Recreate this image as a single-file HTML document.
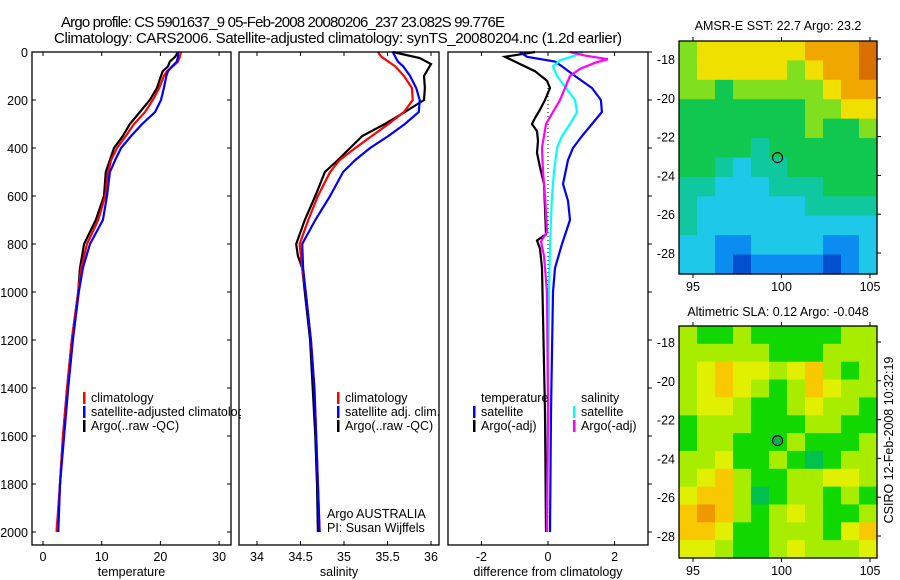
<!DOCTYPE html>
<html><head><meta charset="utf-8"><style>
html,body{margin:0;padding:0;background:#fff;}
svg{display:block;font-family:"Liberation Sans",sans-serif;}
text{fill:#000;}
</style></head><body>
<svg id="c" width="900" height="580" viewBox="0 0 900 580" xmlns="http://www.w3.org/2000/svg">
<defs><clipPath id="legclip"><rect x="0" y="0" width="241" height="580"/></clipPath></defs>
<text x="61" y="27" font-size="15" textLength="444">Argo profile: CS 5901637_9 05-Feb-2008 20080206_237 23.082S 99.776E</text>
<text x="54" y="43" font-size="15" textLength="568">Climatology: CARS2006. Satellite-adjusted climatology: synTS_20080204.nc (1.2d earlier)</text>
<g id="g"></g>
</svg>
<script>
// ---------- profile data ----------
const tDepth = [0,20,40,60,80,100,150,200,250,300,350,400,450,500,600,700,800,900,1000,1200,1400,1600,1800,2000];
const tArgo = [23.0,22.5,21.6,21.3,20.4,20.1,19.4,18.2,16.5,14.8,13.6,12.1,11.4,10.7,10.4,9.0,7.0,6.3,6.0,4.9,4.1,3.4,2.9,2.5];
const tClim = [23.5,23.3,23.0,22.1,21.1,20.6,19.8,18.7,17.4,15.5,14.1,12.6,11.6,11.1,10.6,9.4,7.5,6.5,6.0,4.9,4.1,3.4,2.9,2.3];
const tSat = [23.0,23.0,22.8,22.0,21.3,21.0,20.6,20.1,19.1,16.9,15.0,13.3,12.3,11.4,10.9,10.2,8.0,6.8,6.1,5.1,4.3,3.6,2.9,2.6];
const sArgoDepth = [0,25,50,100,150,200,250,300,350,400,450,500,600,700,800,850,900,1000,1200,1400,1600,1800,2000];
const sArgo = [35.56,35.87,36.0,35.92,35.93,35.92,35.70,35.47,35.21,35.07,34.93,34.78,34.67,34.55,34.45,34.47,34.52,34.55,34.61,34.64,34.67,34.69,34.70];
const sDepth = [0,20,40,60,100,150,200,250,300,350,400,450,500,600,700,800,900,1000,1200,1400,1600,1800,2000];
const sClim = [35.39,35.43,35.51,35.59,35.69,35.78,35.79,35.69,35.51,35.32,35.13,34.95,34.84,34.70,34.59,34.49,34.52,34.56,34.62,34.66,34.68,34.70,34.72];
const sSat = [35.56,35.59,35.62,35.68,35.76,35.83,35.87,35.86,35.70,35.51,35.30,35.13,34.99,34.84,34.67,34.52,34.53,34.56,34.62,34.66,34.68,34.70,34.72];
const dTSatDepth = [0,20,40,60,100,150,200,250,300,350,400,450,550,620,700,800,900,1000,1500,2000];
const dTSat = [-0.84,-0.63,0.21,0.42,0.81,1.32,1.59,1.62,1.32,1.02,0.75,0.60,0.45,0.60,0.66,0.42,0.21,0.15,0.09,0.06];
const dTArgoDepth = [0,20,40,80,120,150,180,200,240,275,300,330,370,420,480,550,650,760,785,820,900,1100,1500,2000];
const dTArgo = [-0.39,-1.29,-0.99,-0.39,-0.03,0.06,-0.03,-0.09,-0.24,-0.39,-0.48,-0.33,-0.30,-0.33,-0.24,-0.12,-0.09,-0.06,-0.33,-0.24,-0.18,-0.15,-0.09,-0.06];
const dSSatDepth = [0,15,35,60,100,150,200,250,300,350,400,500,600,800,1000,1500,2000];
const dSSat = [1.05,0.81,0.36,0.15,0.27,0.54,0.81,0.87,0.66,0.42,0.27,0.18,0.12,0.06,0.03,0,-0.03];
const dSArgoDepth = [0,15,30,45,70,100,150,200,250,300,350,400,500,600,750,790,850,1000,1500,2000];
const dSArgo = [0.66,1.11,1.80,1.41,0.96,0.66,0.51,0.36,0.15,-0.06,-0.12,-0.18,-0.15,-0.09,-0.03,-0.21,-0.12,-0.03,0,-0.03];
const depthTicks = [0,200,400,600,800,1000,1200,1400,1600,1800,2000];
const tempTicks = [0,10,20,30];
const salTicks = [34,34.5,35,35.5,36];
const salTickLabels = ["34","34.5","35","35.5","36"];
const diffTicks = [-2,0,2];
// ---------- map data ----------
const sstGrid = [
[5,6,6,6,6,6,6,7,7,7,8],
[5,6,6,6,6,6,5,6,7,7,8],
[5,5,4,5,5,5,5,5,6,7,7],
[4,4,4,4,4,4,4,5,5,6,6],
[4,4,4,4,4,4,4,5,4,4,5],
[4,4,4,4,3,4,4,4,4,4,4],
[4,4,3,2,3,3,4,4,4,4,4],
[3,3,2,2,2,3,3,3,4,4,4],
[3,2,2,2,2,2,2,3,3,3,3],
[3,2,2,2,2,2,2,2,2,2,2],
[2,2,1,1,2,2,2,2,1,1,2],
[2,2,1,0,1,1,1,1,0,1,2]];
const slaGrid = [
[2,1,1,2,1,1,1,1,1,2,2],
[2,2,2,2,2,1,1,1,2,2,2],
[2,3,4,3,3,2,3,4,2,1,2],
[2,3,4,3,2,1,2,4,3,2,2],
[2,3,3,2,1,1,2,3,2,2,1],
[1,2,2,2,1,1,1,2,2,1,1],
[1,2,2,1,1,1,2,1,1,1,2],
[2,2,3,1,1,2,1,0,1,2,2],
[2,3,4,2,1,1,2,2,3,3,2],
[3,4,4,2,0,1,2,2,1,2,1],
[4,5,4,2,1,2,3,2,1,1,2],
[4,4,3,1,1,2,2,2,1,3,4],
[3,3,2,1,1,2,3,2,2,2,3]];
const sstColors = ["#0050d0","#0a8cf0","#1ec8e8","#10c8a0","#10c850","#80e020","#f0e000","#f0a800","#d87000"];
const slaColors = ["#00c050","#10d800","#a8ec00","#e0f000","#f8c800","#f09800"];
const lonTicks = [95,100,105];
const latTicks = [-18,-20,-22,-24,-26,-28];
const argoLon = 99.776, argoLat = -23.082;

const NS="http://www.w3.org/2000/svg";
const G=document.getElementById('g');
function mk(tag,attrs,parent){const e=document.createElementNS(NS,tag);for(const k in attrs)e.setAttribute(k,attrs[k]);(parent||G).appendChild(e);return e;}
function txt(x,y,s,size,anchor,parent){const t=mk('text',{x:x,y:y,'font-size':size,'text-anchor':anchor||'start'},parent);t.textContent=s;return t;}

const TOP=52,BOT=545;
const yD=d=>TOP+d*0.24;
const panels=[
 {x0:32,x1:231,f:v=>43+v*5.87,name:'temperature'},
 {x0:239,x1:439,f:v=>257+(v-34)*87,name:'salinity'},
 {x0:448,x1:648,f:v=>548+v*33.3,name:'difference'}];

function line(p,depths,vals,color,name){
  const pts=depths.map((d,i)=>p.f(vals[i]).toFixed(1)+','+yD(d).toFixed(1)).join(' ');
  const e=mk('polyline',{points:pts,fill:'none',stroke:color,'stroke-width':2.2,'stroke-linejoin':'miter'});
  
  
}
function box(p){
  const r=mk('rect',{x:p.x0,y:TOP,width:p.x1-p.x0,height:BOT-TOP,fill:'none',stroke:'#000','stroke-width':1.3});
  
  
}
function xTicks(p,ticks,labels,title){
  ticks.forEach((v,i)=>{const x=p.f(v);
    mk('line',{x1:x,x2:x,y1:TOP,y2:TOP+4,stroke:'#000'});
    mk('line',{x1:x,x2:x,y1:BOT,y2:BOT-4,stroke:'#000'});
    const t=txt(x,561,labels[i],12.5,'middle');
    
    });
  const tt=txt((p.x0+p.x1)/2,576,title,12.5,'middle');
  
  
}
const p1=panels[0],p2=panels[1],p3=panels[2];
depthTicks.forEach(d=>{const y=yD(d);
  mk('line',{x1:p1.x0,x2:p1.x0+4,y1:y,y2:y,stroke:'#000'});
  mk('line',{x1:p1.x1,x2:p1.x1-4,y1:y,y2:y,stroke:'#000'});
  mk('line',{x1:p3.x1,x2:p3.x1+4,y1:y,y2:y,stroke:'#000'});
  const t=txt(28,y+5,String(d),12.5,'end');
  
  });
line(p1,tDepth,tArgo,'#000','temp-argo-line');
line(p1,tDepth,tClim,'#f00','temp-climatology-line');
line(p1,tDepth,tSat,'#0000ff','temp-satellite-line');
box(p1);
xTicks(p1,tempTicks,tempTicks.map(String),'temperature');
line(p2,sArgoDepth,sArgo,'#000','sal-argo-line');
line(p2,sDepth,sClim,'#f00','sal-climatology-line');
line(p2,sDepth,sSat,'#0000ff','sal-satellite-line');
box(p2);
xTicks(p2,salTicks,salTickLabels,'salinity');
const dot=mk('line',{x1:p3.f(0),x2:p3.f(0),y1:yD(150),y2:yD(1950),stroke:'#000','stroke-width':1,'stroke-dasharray':'1,3'});


line(p3,dTArgoDepth,dTArgo,'#000','diff-temp-argo-line');
line(p3,dTSatDepth,dTSat,'#0000ff','diff-temp-satellite-line');
line(p3,dSSatDepth,dSSat,'#00ffff','diff-sal-satellite-line');
line(p3,dSArgoDepth,dSArgo,'#ff00ff','diff-sal-argo-line');
box(p3);
xTicks(p3,diffTicks,diffTicks.map(String),'difference from climatology');

function leg(x,y,color,label,name,clip){
  mk('rect',{x:x,y:y-10,width:2.5,height:12,fill:color});
  const t=txt(x+8,y,label,12.5);
  if(clip) t.setAttribute('clip-path','url(#legclip)');
  
  
}
leg(83,402,'#f00','climatology','legend-entry-climatology',true);
leg(83,416,'#0000ff','satellite-adjusted climatology','legend-entry-satellite-adjusted',true);
leg(83,430,'#000','Argo(..raw -QC)','legend-entry-argo',true);
leg(337,402,'#f00','climatology','legend-entry-climatology-2');
leg(337,416,'#0000ff','satellite adj. clim.','legend-entry-satellite-adj');
leg(337,430,'#000','Argo(..raw -QC)','legend-entry-argo-2');
let t1=txt(481,402,'temperature',12.5);
let t2=txt(581,402,'salinity',12.5);
leg(473,416,'#0000ff','satellite','legend-entry-temp-satellite');
leg(473,430,'#000','Argo(-adj)','legend-entry-temp-argo');
leg(573,416,'#00ffff','satellite','legend-entry-sal-satellite');
leg(573,430,'#ff00ff','Argo(-adj)','legend-entry-sal-argo');
let c1=txt(327,518,'Argo AUSTRALIA',12.5);
let c2=txt(327,532,'PI: Susan Wijffels',12.5);

function map(m){
  const lx=lon=>693+(lon-95)*17.7;
  const ly=lat=>m.y18+(-18-lat)*19.4;
  const rows=m.grid.length,cols=m.grid[0].length;
  const cw=(877-679)/cols,ch=(m.bot-m.top)/rows;
  m.grid.forEach((row,r)=>row.forEach((v,c)=>{
    const e=mk('rect',{x:(679+c*cw).toFixed(2),y:(m.top+r*ch).toFixed(2),width:(cw+0.6).toFixed(2),height:(ch+0.6).toFixed(2),fill:m.colors[v]});
    
    
  }));
  const fr=mk('rect',{x:679,y:m.top,width:198,height:m.bot-m.top,fill:'none',stroke:'#000','stroke-width':1.3});
  
  
  lonTicks.forEach(l=>{const x=lx(l);
    mk('line',{x1:x,x2:x,y1:m.top,y2:m.top-4,stroke:'#000'});
    mk('line',{x1:x,x2:x,y1:m.bot,y2:m.bot+4,stroke:'#000'});
    const t=txt(x,m.bot+17,String(l),12.5,'middle');
    
    });
  latTicks.forEach(l=>{const y=ly(l);
    mk('line',{x1:877,x2:881,y1:y,y2:y,stroke:'#000'});
    const t=txt(675,y+5,String(l),12.5,'end');
    
    });
  const ci=mk('circle',{cx:lx(argoLon),cy:ly(argoLat),r:5,fill:m.dotFill,stroke:'#000','stroke-width':1.2});
  
  
  const tt=txt(778,m.titleY,m.title,12.5,'middle');
  
  
}
map({grid:sstGrid,colors:sstColors,top:41,bot:274,y18:59,name:'sst-map',title:'AMSR-E SST: 22.7 Argo: 23.2',titleY:30,dotFill:'none'});
map({grid:slaGrid,colors:slaColors,top:326,bot:558,y18:342,name:'sla-map',title:'Altimetric SLA: 0.12 Argo: -0.048',titleY:316,dotFill:'#10b050'});
const rt=txt(0,0,'CSIRO 12-Feb-2008 10:32:19',12.5,'middle');
rt.setAttribute('transform','translate(893,440) rotate(-90)');


</script>
</body></html>
